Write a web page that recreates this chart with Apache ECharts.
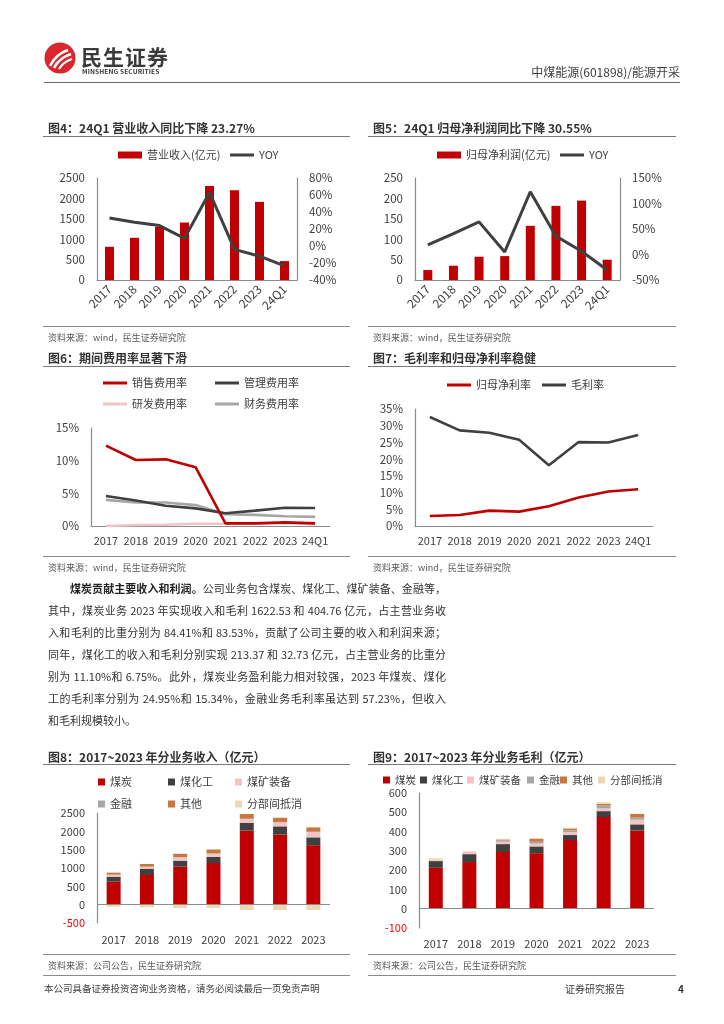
<!DOCTYPE html>
<html><head><meta charset="utf-8">
<script src="https://cdn.jsdelivr.net/npm/echarts@6/dist/echarts.min.js"></script>
<style>
body{margin:0;background:#fff;}
#page{position:relative;width:724px;height:1024px;overflow:hidden;font-family:"Noto Sans CJK SC","Noto Sans",sans-serif;color:#404040;background:#fff}
#chart{position:absolute;left:0;top:0;width:724px;height:1024px;}
.t{position:absolute;white-space:nowrap;line-height:1;transform:translateY(-50%);}
.ln{position:absolute;height:0;}
.ttl{font-size:12px;font-weight:bold;color:#333;}
.src{font-size:9px;color:#595959;}
.p{position:absolute;font-size:11px;line-height:1;white-space:nowrap;text-align:justify;text-align-last:justify;color:#333;transform:translateY(-50%);}
</style></head>
<body><div id="page">
<div id="chart"></div>
<div id="overlay" style="position:absolute;left:0;top:0;width:724px;height:1024px;pointer-events:none;">
  <svg style="position:absolute;left:44px;top:42px" width="32" height="32" viewBox="0 0 32 32">
    <circle cx="16" cy="16" r="15.5" fill="#D9272D"/>
    <path d="M6 24 Q12 12 24 8" stroke="#fff" stroke-width="2.6" fill="none"/>
    <path d="M10 26 Q15 16 27 12" stroke="#fff" stroke-width="2.6" fill="none"/>
    <path d="M15 27 Q19 20 28 17" stroke="#fff" stroke-width="2.2" fill="none"/>
  </svg>
  <div class="t" style="left:81px;top:56px;font-size:21px;font-weight:bold;color:#3a3a3a;letter-spacing:1px">民生证券</div>
  <div class="t" style="left:82px;top:71px;font-size:6.6px;font-weight:bold;color:#3a3a3a;letter-spacing:0.1px">MINSHENG SECURITIES</div>
  <div class="t" style="right:44px;top:72px;font-size:12px;color:#404040">中煤能源(601898)/能源开采</div>
  <div class="ln" style="left:44px;top:82px;width:636px;border-top:1.5px solid #6b6b6b"></div>

  <div class="t ttl" style="left:48px;top:128px">图4：24Q1 营业收入同比下降 23.27%</div>
  <div class="t ttl" style="left:373px;top:128px">图5：24Q1 归母净利润同比下降 30.55%</div>
  <div class="ln" style="left:43px;top:136px;width:307px;border-top:1.5px solid #7a7a7a"></div>
  <div class="ln" style="left:368px;top:136px;width:308px;border-top:1.5px solid #7a7a7a"></div>
  <div class="ln" style="left:43px;top:326px;width:307px;border-top:1px solid #8a8a8a"></div>
  <div class="ln" style="left:368px;top:326px;width:308px;border-top:1px solid #8a8a8a"></div>
  <div class="t src" style="left:48px;top:337px">资料来源：wind，民生证券研究院</div>
  <div class="t src" style="left:373px;top:337px">资料来源：wind，民生证券研究院</div>

  <div class="t ttl" style="left:48px;top:358px">图6：期间费用率显著下滑</div>
  <div class="t ttl" style="left:373px;top:358px">图7：毛利率和归母净利率稳健</div>
  <div class="ln" style="left:43px;top:366px;width:307px;border-top:1.5px solid #7a7a7a"></div>
  <div class="ln" style="left:368px;top:366px;width:308px;border-top:1.5px solid #7a7a7a"></div>
  <div class="ln" style="left:43px;top:556px;width:307px;border-top:1px solid #8a8a8a"></div>
  <div class="ln" style="left:368px;top:556px;width:308px;border-top:1px solid #8a8a8a"></div>
  <div class="t src" style="left:48px;top:567px">资料来源：wind，民生证券研究院</div>
  <div class="t src" style="left:373px;top:567px">资料来源：wind，民生证券研究院</div>

  <div class="p" style="left:70px;top:588px;width:376px"><b style="color:#222">煤炭贡献主要收入和利润。</b>公司业务包含煤炭、煤化工、煤矿装备、金融等，</div>
  <div class="p" style="left:48px;top:610px;width:398px">其中，煤炭业务 2023 年实现收入和毛利 1622.53 和 404.76 亿元，占主营业务收</div>
  <div class="p" style="left:48px;top:632px;width:398px">入和毛利的比重分别为 84.41%和 83.53%，贡献了公司主要的收入和利润来源；</div>
  <div class="p" style="left:48px;top:654px;width:398px">同年，煤化工的收入和毛利分别实现 213.37 和 32.73 亿元，占主营业务的比重分</div>
  <div class="p" style="left:48px;top:676px;width:398px">别为 11.10%和 6.75%。此外，煤炭业务盈利能力相对较强，2023 年煤炭、煤化</div>
  <div class="p" style="left:48px;top:698px;width:398px">工的毛利率分别为 24.95%和 15.34%，金融业务毛利率虽达到 57.23%，但收入</div>
  <div class="p" style="left:48px;top:720px;text-align:left;text-align-last:left">和毛利规模较小。</div>

  <div class="t ttl" style="left:48px;top:757px">图8：2017~2023 年分业务收入（亿元）</div>
  <div class="t ttl" style="left:373px;top:757px">图9：2017~2023 年分业务毛利（亿元）</div>
  <div class="ln" style="left:43px;top:764px;width:307px;border-top:1.5px solid #7a7a7a"></div>
  <div class="ln" style="left:368px;top:764px;width:308px;border-top:1.5px solid #7a7a7a"></div>
  <div class="ln" style="left:43px;top:954px;width:307px;border-top:1px solid #8a8a8a"></div>
  <div class="ln" style="left:368px;top:954px;width:308px;border-top:1px solid #8a8a8a"></div>
  <div class="t src" style="left:48px;top:965px">资料来源：公司公告，民生证券研究院</div>
  <div class="t src" style="left:373px;top:965px">资料来源：公司公告，民生证券研究院</div>
  <div class="ln" style="left:43px;top:975px;width:307px;border-top:1px solid #8a8a8a"></div>
  <div class="ln" style="left:368px;top:975px;width:308px;border-top:1px solid #8a8a8a"></div>

  <div class="t" style="left:44px;top:989px;font-size:9.5px;color:#404040">本公司具备证券投资咨询业务资格，请务必阅读最后一页免责声明</div>
  <div class="t" style="left:565px;top:989px;font-size:10px;color:#404040">证券研究报告</div>
  <div class="t" style="left:678px;top:989px;font-size:10px;font-weight:bold;color:#333">4</div>
</div>
</div>
<script>
// ---------- data ----------
const periods = ['2017','2018','2019','2020','2021','2022','2023','24Q1'];
const revenue = [814, 1034, 1303, 1409, 2305, 2199, 1914, 464];
const revenueYoy = [33, 28, 24, 9, 63, -4, -12, -23.27];
const netProfit = [24.4, 35, 57, 58.6, 132.7, 181.6, 194.6, 49.7];
const netProfitYoy = [19, 41, 64, 5, 123, 36, 6.5, -30.55];
const salesRate = [12.3, 10.1, 10.2, 9.0, 0.4, 0.4, 0.55, 0.4];
const mgmtRate = [4.6, 3.9, 3.1, 2.7, 1.95, 2.35, 2.8, 2.75];
const rdRate = [0.0, 0.15, 0.2, 0.35, 0.35, 0.35, 0.45, 0.3];
const finRate = [4.0, 3.6, 3.6, 3.2, 1.8, 1.7, 1.5, 1.4];
const netMargin = [3.0, 3.3, 4.6, 4.3, 5.9, 8.5, 10.3, 11.0];
const grossMargin = [32.6, 28.6, 27.9, 25.8, 18.2, 25.1, 25.0, 27.2];

const years = ['2017','2018','2019','2020','2021','2022','2023'];
const segNames = ['煤炭','煤化工','煤矿装备','金融','其他','分部间抵消'];
const coalRev = [627, 809, 1036, 1136, 2018, 1909, 1622.53];
const chemRev = [136, 173, 164, 164, 209, 227, 213.37];
const equipRev = [55, 55, 91, 91, 109, 109, 146];
const finRev = [0, 0, 5, 5, 8, 8, 8];
const otherRev = [55, 73, 91, 109, 128, 118, 118];
const elimRev = [-55, -73, -91, -91, -145, -145, -145];

const coalGp = [212, 242, 294, 288, 356, 475, 404.76];
const chemGp = [35, 41, 41, 35, 26, 31, 32.73];
const equipGp = [5, 14, 12, 15, 15, 14, 24];
const finGp = [0, 0, 7, 9, 9, 15, 11];
const otherGp = [0, 0, 5, 16, 10, 9, 19];
const elimGp = [9, 0, 3, 0, 4, 7, 0];

// ---------- style ----------
const FONT = '"Noto Sans CJK SC","Noto Sans",sans-serif';
const AX = '#8c8c8c';
const LBL = '#404040';
const RED = '#C00000', DARK = '#404040', PINK = '#F2C4C5', GRAY = '#A6A6A6', BROWN = '#C5783F', BEIGE = '#EBD8B2';
const segColors = [RED, DARK, PINK, GRAY, BROWN, BEIGE];

function leg(name, x, cy, kind, fs) {
  const sq = kind === 'sq';
  return {
    data: [name], left: x, top: cy - 8, padding: 0, itemGap: 0, selectedMode: false,
    icon: 'rect', itemWidth: sq ? 7 : 24, itemHeight: kind === 'line' ? 3 : 7,
    textStyle: { fontSize: fs || 11, color: LBL, fontFamily: FONT, lineHeight: 16 }
  };
}
function catAxis(grid, data, opts) {
  return Object.assign({
    type: 'category', gridIndex: grid, data: data, boundaryGap: true,
    axisLine: { show: true, lineStyle: { color: AX, width: 1.2 } },
    axisTick: { show: false },
    axisLabel: { interval: 0, fontSize: 11, color: LBL, fontFamily: FONT, margin: 9 }
  }, opts || {});
}
function valAxis(grid, min, max, interval, pct, opts) {
  return Object.assign({
    type: 'value', gridIndex: grid, min: min, max: max, interval: interval,
    splitLine: { show: false },
    axisLine: { show: true, lineStyle: { color: AX, width: 1.2 } },
    axisTick: { show: false },
    axisLabel: { fontSize: 11.5, color: LBL, fontFamily: FONT, margin: 12,
      formatter: pct ? (v => v + '%') : (v => String(v)) }
  }, opts || {});
}
const negRed = {
  formatter: v => v < 0 ? '{r|' + v + '}' : '{n|' + v + '}',
  rich: { r: { color: '#FF0000', fontSize: 11, fontFamily: FONT }, n: { color: LBL, fontSize: 11, fontFamily: FONT } },
  margin: 12
};

const chart = echarts.init(document.getElementById('chart'), null, { renderer: 'canvas' });

const series = [];
// chart 4
series.push({ name: '营业收入(亿元)', type: 'bar', xAxisIndex: 0, yAxisIndex: 0, data: revenue, barWidth: 9, itemStyle: { color: RED } });
series.push({ name: 'YOY', type: 'line', xAxisIndex: 0, yAxisIndex: 1, data: revenueYoy, symbol: 'none', lineStyle: { color: DARK, width: 3 }, itemStyle: { color: DARK } });
// chart 5
series.push({ name: '归母净利润(亿元)', type: 'bar', xAxisIndex: 1, yAxisIndex: 2, data: netProfit, barWidth: 9, itemStyle: { color: RED } });
series.push({ name: 'YOY', type: 'line', xAxisIndex: 1, yAxisIndex: 3, data: netProfitYoy, symbol: 'none', lineStyle: { color: DARK, width: 3 }, itemStyle: { color: DARK } });
// chart 6
[['研发费用率', rdRate, PINK], ['财务费用率', finRate, GRAY], ['管理费用率', mgmtRate, DARK], ['销售费用率', salesRate, RED]].forEach(s => {
  series.push({ name: s[0], type: 'line', xAxisIndex: 2, yAxisIndex: 4, data: s[1], symbol: 'none', lineStyle: { color: s[2], width: 2.6 }, itemStyle: { color: s[2] } });
});
// chart 7
[['归母净利率', netMargin, RED], ['毛利率', grossMargin, DARK]].forEach(s => {
  series.push({ name: s[0], type: 'line', xAxisIndex: 3, yAxisIndex: 5, data: s[1], symbol: 'none', lineStyle: { color: s[2], width: 2.6 }, itemStyle: { color: s[2] } });
});
// chart 8
[coalRev, chemRev, equipRev, finRev, otherRev, elimRev].forEach((d, i) => {
  const s = { name: segNames[i], type: 'bar', stack: 'rev', xAxisIndex: 4, yAxisIndex: 6, data: d, barWidth: 14, itemStyle: { color: segColors[i] } };
  if (i === 0) s.markLine = { silent: true, symbol: 'none', data: [{ yAxis: 0 }], label: { show: false }, lineStyle: { color: AX, type: 'solid', width: 1.2 } };
  series.push(s);
});
// chart 9
[coalGp, chemGp, equipGp, finGp, otherGp, elimGp].forEach((d, i) => {
  const s = { name: segNames[i], type: 'bar', stack: 'gp', xAxisIndex: 5, yAxisIndex: 7, data: d, barWidth: 14, itemStyle: { color: segColors[i] } };
  if (i === 0) s.markLine = { silent: true, symbol: 'none', data: [{ yAxis: 0 }], label: { show: false }, lineStyle: { color: AX, type: 'solid', width: 1.2 } };
  series.push(s);
});

const option = {
  backgroundColor: 'transparent',
  animation: false,
  textStyle: { fontFamily: FONT },
  grid: [
    { left: 97, top: 178, width: 200, height: 102 },
    { left: 415, top: 178, width: 205, height: 102 },
    { left: 91, top: 428, width: 239, height: 98 },
    { left: 415, top: 409, width: 238, height: 117 },
    { left: 97, top: 813, width: 233, height: 110 },
    { left: 419, top: 793, width: 235, height: 135 }
  ],
  legend: [
    leg('营业收入(亿元)', 118, 155, 'bar'),
    leg('YOY', 230, 155, 'line'),
    leg('归母净利润(亿元)', 437, 155, 'bar'),
    leg('YOY', 560, 155, 'line'),
    leg('销售费用率', 103, 383, 'line'),
    leg('管理费用率', 215, 383, 'line'),
    leg('研发费用率', 103, 404, 'line'),
    leg('财务费用率', 215, 404, 'line'),
    leg('归母净利率', 447, 385, 'line'),
    leg('毛利率', 542, 385, 'line'),
    leg('煤炭', 98, 782, 'sq'),
    leg('煤化工', 168, 782, 'sq'),
    leg('煤矿装备', 235, 782, 'sq'),
    leg('金融', 98, 804, 'sq'),
    leg('其他', 168, 804, 'sq'),
    leg('分部间抵消', 235, 804, 'sq'),
    leg('煤炭', 383, 780, 'sq', 10.5),
    leg('煤化工', 420, 780, 'sq', 10.5),
    leg('煤矿装备', 467, 780, 'sq', 10.5),
    leg('金融', 527, 780, 'sq', 10.5),
    leg('其他', 560, 780, 'sq', 10.5),
    leg('分部间抵消', 598, 780, 'sq', 10.5)
  ],
  xAxis: [
    catAxis(0, periods, { axisLabel: { interval: 0, rotate: 45, fontSize: 12, color: LBL, fontFamily: FONT, margin: 7 } }),
    catAxis(1, periods, { axisLabel: { interval: 0, rotate: 45, fontSize: 12, color: LBL, fontFamily: FONT, margin: 7 } }),
    catAxis(2, periods),
    catAxis(3, periods),
    catAxis(4, years, { axisLine: { show: false, onZero: false }, axisLabel: { interval: 0, fontSize: 11, color: LBL, fontFamily: FONT, margin: 11 } }),
    catAxis(5, years, { axisLine: { show: false, onZero: false }, axisLabel: { interval: 0, fontSize: 11, color: LBL, fontFamily: FONT, margin: 10 } })
  ],
  yAxis: [
    valAxis(0, 0, 2500, 500, false),
    valAxis(0, -40, 80, 20, true, { position: 'right' }),
    valAxis(1, 0, 250, 50, false),
    valAxis(1, -50, 150, 50, true, { position: 'right' }),
    valAxis(2, 0, 15, 5, true),
    valAxis(3, 0, 35, 5, true),
    valAxis(4, -500, 2500, 500, false, { axisLabel: negRed }),
    valAxis(5, -100, 600, 100, false, { axisLabel: negRed })
  ],
  series: series
};
chart.setOption(option);
</script>
</body></html>
